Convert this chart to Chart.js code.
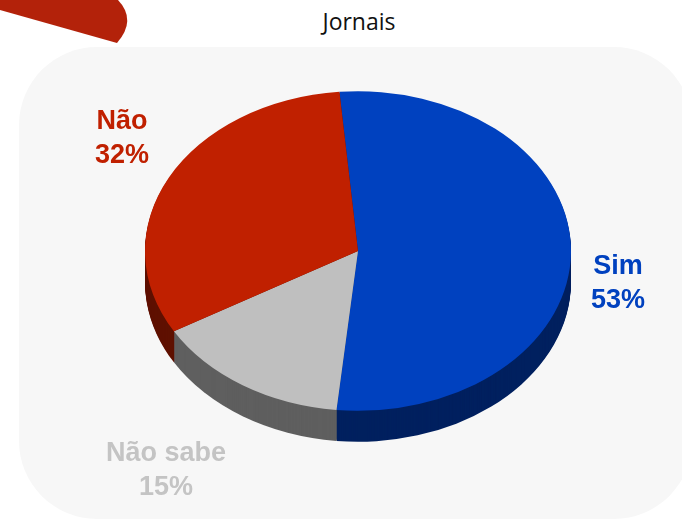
<!DOCTYPE html>
<html>
<head>
<meta charset="utf-8">
<script src="https://cdn.jsdelivr.net/npm/chart.js@4"></script>
<style>
    body { margin: 0; width: 682px; height: 521px; overflow: hidden; background: #fff; position: relative; font-family: "Liberation Sans", Arial, sans-serif; }
    #panel { position: absolute; left: 19px; top: 47px; width: 673px; height: 472px; border-radius: 78px; background: #f7f7f7; }
    #deco { position: absolute; left: 0; top: 0; }
    #title { position: absolute; left: 0; width: 718px; top: 5px; text-align: center; font-family: "Open Sans", sans-serif; font-size: 23px; color: #111; }
    #pieChart { position: absolute; left: 0; top: 0; }
</style>
</head>
<body>
<div id="panel"></div>
<svg id="deco" width="150" height="50"><path d="M0,0 L0,10 L117,43 Q137,20 118,0 Z" fill="#b3220a"/></svg>
<div id="title">Jornais</div>
<canvas id="pieChart" width="682" height="521"></canvas>
<script>
const categories = ['Sim', 'Não sabe', 'Não'];
const shares = [53, 15, 32];

const topColors = ['#0041bf', '#bfbfbf', '#c02000'];
const sideColors = ['#00205f', '#5f5f5f', '#5f1000'];
const labelColors = ['#0041bf', '#c4c4c4', '#c02000'];
// first-line baseline of each label relative to pie centre (Excel places these by hand)
const labelOffsets = [[260, 23], [-192, 210], [-236, -122]];

const squash = 0.75;   // tilt of the pie
const depth = 31;      // thickness of the side wall

const tiltPlugin = {
    id: 'tilt',
    beforeDatasetsDraw(chart) {
        const ctx = chart.ctx;
        const arcs = chart.getDatasetMeta(0).data;
        // side wall: stacked copies of each slice, shifted down
        for (let d = depth; d >= 1; d--) {
            arcs.forEach((a, i) => {
                ctx.save();
                ctx.translate(a.x, a.y + d);
                ctx.scale(1, squash);
                ctx.beginPath();
                ctx.moveTo(0, 0);
                ctx.arc(0, 0, a.outerRadius, a.startAngle, a.endAngle);
                ctx.closePath();
                ctx.fillStyle = sideColors[i];
                ctx.fill();
                ctx.restore();
            });
        }
        const a0 = arcs[0];
        ctx.save();
        ctx.translate(a0.x, a0.y);
        ctx.scale(1, squash);
        ctx.translate(-a0.x, -a0.y);
    },
    afterDatasetsDraw(chart) {
        const ctx = chart.ctx;
        ctx.restore();
        const arcs = chart.getDatasetMeta(0).data;
        ctx.save();
        ctx.font = 'bold 27px "Liberation Sans", Arial, sans-serif';
        ctx.textAlign = 'center';
        ctx.textBaseline = 'alphabetic';
        arcs.forEach((a, i) => {
            const x = a.x + labelOffsets[i][0];
            const y = a.y + labelOffsets[i][1];
            ctx.fillStyle = labelColors[i];
            ctx.fillText(categories[i], x, y);
            ctx.fillText(shares[i] + '%', x, y + 34);
        });
        ctx.restore();
    }
};

new Chart(document.getElementById('pieChart'), {
    type: 'pie',
    data: {
        labels: categories,
        datasets: [{
            data: shares,
            backgroundColor: topColors,
            borderWidth: 0,
            hoverOffset: 0,
            offset: 0
        }]
    },
    options: {
        responsive: false,
        animation: false,
        events: [],
        rotation: -5,
        layout: { padding: { left: 145, right: 111, top: 38, bottom: 57 } },
        plugins: {
            legend: { display: false },
            tooltip: { enabled: false }
        }
    },
    plugins: [tiltPlugin]
});
</script>
</body>
</html>
